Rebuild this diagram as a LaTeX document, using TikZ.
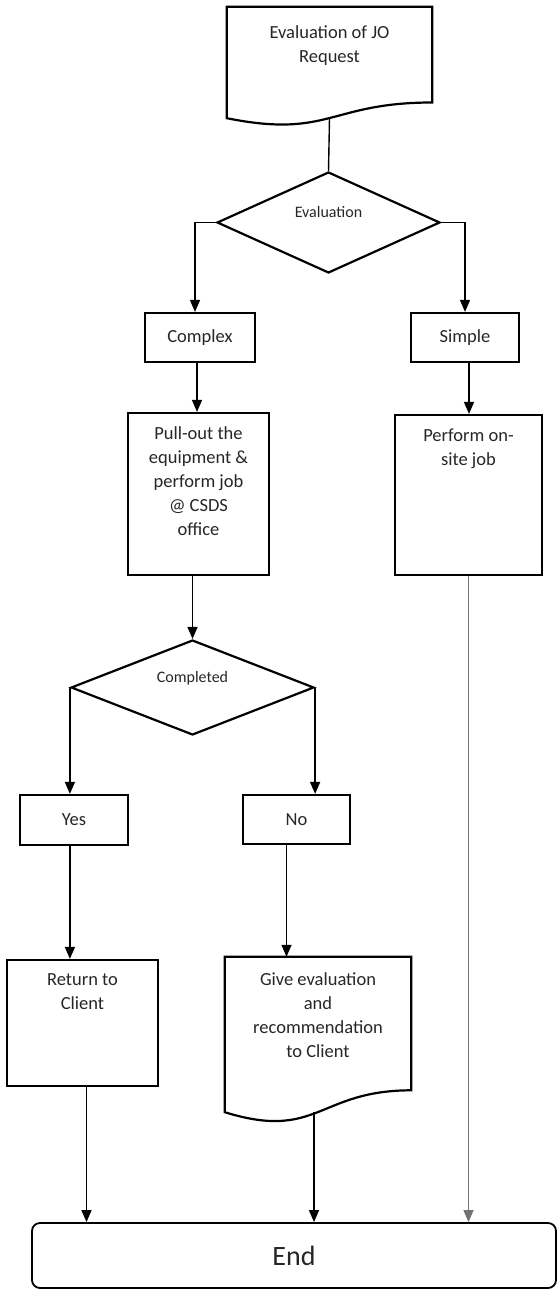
\documentclass[tikz,border=0pt]{standalone}
\usepackage{fontspec}
\setmainfont{Carlito}
\usetikzlibrary{arrows.meta,positioning,shapes.geometric}
% outline of a document symbol: #1 node, #2 rise at right end, #3 dip of the wave
\newcommand{\docpath}[3]{%
  \draw[frame] (#1.south west) -- (#1.north west) -- (#1.north east) -- ([yshift=#2]#1.south east)
    .. controls ([yshift=#2]#1.south) and ([yshift=-#3]#1.south) .. (#1.south west) -- cycle;}

\begin{document}
\begin{tikzpicture}[x=1pt, y=-1pt,
   box/.style={draw, line width=2.2pt, inner sep=0pt, font=\fontsize{18.5}{24}\selectfont, text=black!85},
   frame/.style={line width=2.2pt},
   docbox/.style={inner sep=0pt},
   txt/.style={align=center, inner sep=0pt, font=\fontsize{18.5}{24}\selectfont, text=black!85},
   decision/.style={diamond, draw, line width=2.2pt, inner sep=0pt, text height=2pt, text depth=12pt,
                    font=\fontsize{16}{19}\selectfont, text=black!85},
   ar/.style={-{Triangle[length=12pt, width=10pt]}, line width=1.4pt},
   ln/.style={line width=1.4pt}
]
\useasboundingbox (0,0) rectangle (557,1289);

\node[docbox, minimum width=205pt, minimum height=111pt] (jobox) at (329.5,62.5) {};
\docpath{jobox}{15.7pt}{20.6pt}
\node[txt, below=19pt of jobox.north] (jotxt) {Evaluation of JO\\Request};

\node[decision, minimum width=223pt, minimum height=101pt] (evaluation) at (328.5,222.5) {Evaluation};

\node[box, minimum width=110pt, minimum height=49pt] (complex) at (200,337.5) {Complex};
\node[box, minimum width=108pt, minimum height=49pt] (simple) at (465,337.5) {Simple};

\node[box, minimum width=141pt, minimum height=162pt] (pullout) at (198.5,494) {};
\node[txt, below=15pt of pullout.north] (pullouttxt) {Pull-out the\\equipment \&\\perform job\\@ CSDS\\office};
\node[box, minimum width=147pt, minimum height=160pt] (perform) at (468.5,495) {};
\node[txt, below=15pt of perform.north] (performtxt) {Perform on-\\site job};

\node[decision, minimum width=243pt, minimum height=95pt] (completed) at (192.5,687.5) {Completed};

\node[box, minimum width=108pt, minimum height=50pt] (yes) at (74,820) {Yes};
\node[box, minimum width=107pt, minimum height=49pt] (no) at (296.5,819.5) {No};

\node[box, minimum width=151pt, minimum height=126pt] (ret) at (82.5,1023) {};
\node[txt, below=15pt of ret.north] (rettxt) {Return to\\Client};

\node[docbox, minimum width=186pt, minimum height=155pt] (give) at (318,1034.5) {};
\docpath{give}{21.9pt}{28.8pt}
\node[txt, below=16pt of give.north] (givetxt) {Give evaluation\\and\\recommendation\\to Client};

\node[box, line width=1.8pt, rounded corners=8pt, minimum width=524pt, minimum height=65pt,
      font=\fontsize{28}{32}\selectfont] (end) at (294,1255.5) {End};

\draw[ln] (jobox.south) -- (evaluation.north);
\draw[ar] (evaluation.west) -| ([xshift=-5pt]complex.north);
\draw[ar] (evaluation.east) -| (simple.north);
\draw[ar] ([xshift=-3pt]complex.south) -- ([xshift=-3pt]complex.south |- pullout.north);
\draw[ar] ([xshift=4pt]simple.south) -- ([xshift=4pt]simple.south |- perform.north);
\draw[ar] (pullout.south -| completed.north) -- (completed.north);
\draw[ar] (completed.west) -- (completed.west |- yes.north);
\draw[ar] (completed.east) -- (completed.east |- no.north);
\draw[ar] (yes.south -| completed.west) -- (completed.west |- ret.north);
\draw[ar] ([xshift=-10pt]no.south) -- ([xshift=-10pt]no.south |- give.north);
\draw[ar] ([xshift=4pt]ret.south) -- ([xshift=4pt]ret.south |- end.north);
\draw[ar] ([xshift=-4pt]give.south) -- ([xshift=-4pt]give.south |- end.north);
\draw[ar, black!55, line width=1pt] (perform.south) -- (perform.south |- end.north);
\end{tikzpicture}
\end{document}
